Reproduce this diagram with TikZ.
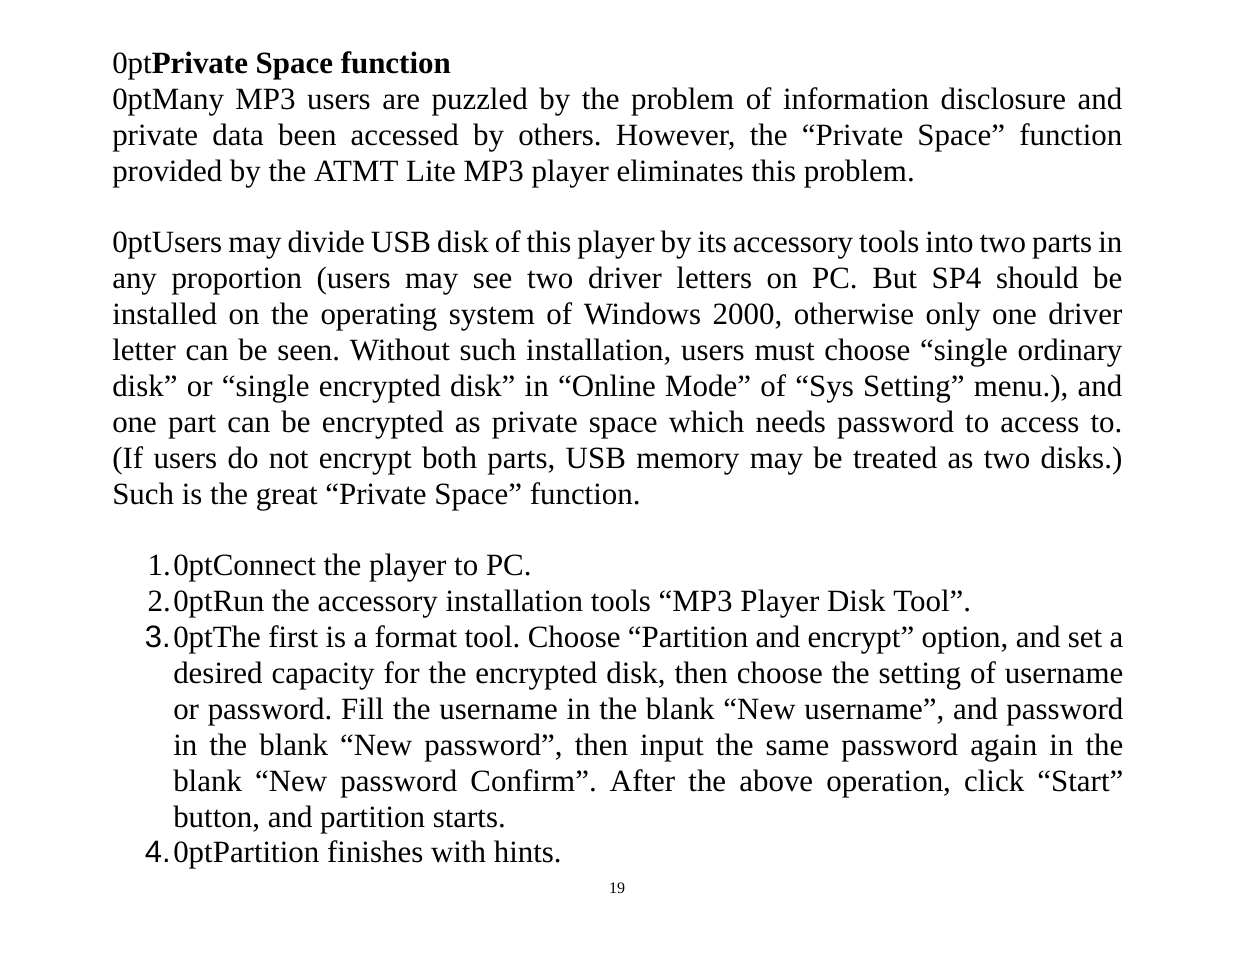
\documentclass[tikz,border=0pt]{standalone}
\usepackage{fontspec}
\setmainfont{Liberation Serif}
\newfontfamily\arialf{Liberation Sans}
\frenchspacing
\begin{document}
\begin{tikzpicture}[x=0.75pt,y=-0.75pt,
  para/.style={anchor=base west,inner sep=0pt,text width=757.5pt,align=justify,font=\fontsize{23.2}{27}\selectfont\hyphenpenalty=10000\emergencystretch=20pt},
  item/.style={para,text width=712.5pt},
  num/.style={anchor=base east,inner sep=0pt,font=\fontsize{23.2}{27}\selectfont}]
\useasboundingbox (0,0) rectangle (1235,954);
\node[para] (t) at (112,73) {\textbf{Private Space function}};
\node[para] (p1) at (112,109) {Many MP3 users are puzzled by the problem of information disclosure and\linebreak private data been accessed by others. However, the “Private Space” function\linebreak provided by the ATMT Lite MP3 player eliminates this problem.};
\node[para] (p2) at (112,252) {Users may divide USB disk of this player by its accessory tools into two parts in\linebreak any proportion (users may see two driver letters on PC. But SP4 should be\linebreak installed on the operating system of Windows 2000, otherwise only one driver\linebreak letter can be seen. Without such installation, users must choose “single ordinary\linebreak disk” or “single encrypted disk” in “Online Mode” of “Sys Setting” menu.), and\linebreak one part can be encrypted as private space which needs password to access to.\linebreak (If users do not encrypt both parts, USB memory may be treated as two disks.)\linebreak Such is the great “Private Space” function.};
\node[num] (n1) at (171,575) {1.};
\node[item] (i1) at (173,575) {Connect the player to PC.};
\node[num] (n2) at (171,611) {2.};
\node[item] (i2) at (173,611) {Run the accessory installation tools “MP3 Player Disk Tool”.};
\node[num] (n3) at (171,647) {\arialf 3.};
\node[item] (i3) at (173,647) {The first is a format tool. Choose “Partition and encrypt” option, and set a\linebreak desired capacity for the encrypted disk, then choose the setting of username\linebreak or password. Fill the username in the blank “New username”, and password\linebreak in the blank “New password”, then input the same password again in the\linebreak blank “New password Confirm”. After the above operation, click “Start”\linebreak button, and partition starts.};
\node[num] (n4) at (171,862) {\arialf 4.};
\node[item] (i4) at (173,862) {Partition finishes with hints.};
\node[anchor=base,inner sep=0pt,font=\fontsize{12}{14}\selectfont] (pg) at (617,893) {19};
\end{tikzpicture}
\end{document}
